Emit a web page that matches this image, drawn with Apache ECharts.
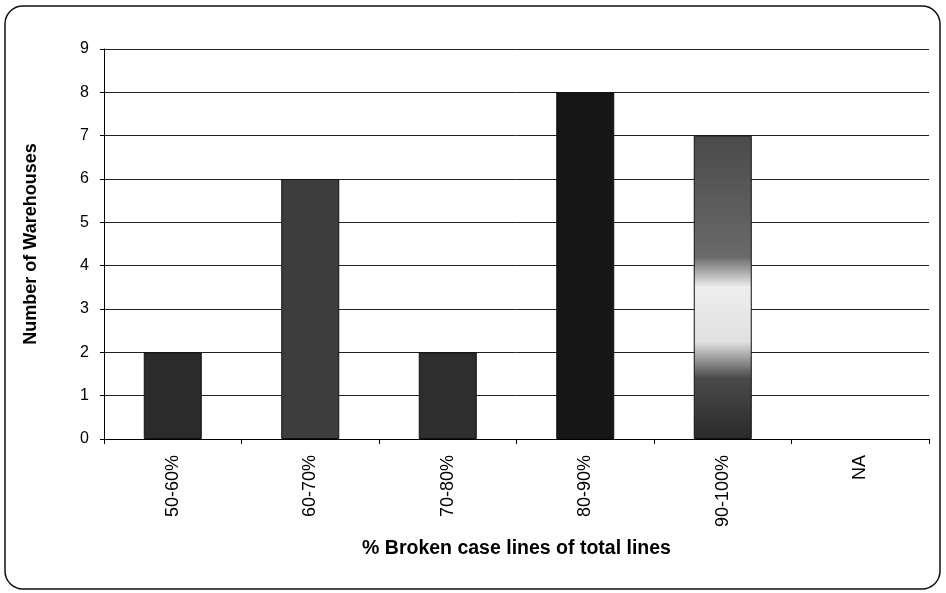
<!DOCTYPE html>
<html><head><meta charset="utf-8">
<script src="https://cdn.jsdelivr.net/npm/echarts@6/dist/echarts.min.js"></script>
<style>html,body{margin:0;padding:0;background:#fff}#c{width:946px;height:593px}</style>
</head><body><div id="c"></div>
<script>
const categories = ['50-60%', '60-70%', '70-80%', '80-90%', '90-100%', 'NA'];
const warehouses = [2, 6, 2, 8, 7, 0];
const yTicks = [0, 1, 2, 3, 4, 5, 6, 7, 8, 9];
const barShades = ['#2b2b2b', '#3d3d3d', '#2e2e2e', '#161616', null, '#333'];

const chart = echarts.init(document.getElementById('c'));
const grad = new echarts.graphic.LinearGradient(0, 0, 0, 1, [
  {offset: 0, color: '#4a4a4a'}, {offset: 0.4, color: '#6a6a6a'},
  {offset: 0.5, color: '#eeeeee'}, {offset: 0.68, color: '#e0e0e0'},
  {offset: 0.8, color: '#4a4a4a'}, {offset: 1, color: '#2a2a2a'}
]);
const font = 'Liberation Sans, Arial';
chart.setOption({
  animation: false,
  graphic: [{type: 'rect', shape: {x: 5, y: 6, width: 935, height: 583, r: 18},
    style: {fill: 'none', stroke: '#111', lineWidth: 1.5}, z: -1}],
  grid: {left: 104, right: 17, top: 49, bottom: 154},
  xAxis: {
    type: 'category', data: categories,
    name: '% Broken case lines of total lines', nameLocation: 'middle', nameGap: 100,
    nameTextStyle: {fontFamily: font, fontWeight: 'bold', fontSize: 19.5, color: '#000'},
    axisLine: {lineStyle: {color: '#000', width: 1}},
    axisTick: {show: true, alignWithLabel: false, length: 5, lineStyle: {color: '#000'}},
    axisLabel: {rotate: 90, margin: 16, fontFamily: font, fontSize: 18, color: '#000'}
  },
  yAxis: {
    type: 'value', min: 0, max: 9, interval: 1,
    name: 'Number of Warehouses', nameLocation: 'middle', nameGap: 64,
    nameTextStyle: {fontFamily: font, fontWeight: 'bold', fontSize: 18, color: '#000'},
    axisLine: {show: true, lineStyle: {color: '#000', width: 1}},
    axisTick: {show: true, length: 4, lineStyle: {color: '#000'}},
    axisLabel: {margin: 15, fontFamily: font, fontSize: 16, color: '#000',
      formatter: v => yTicks.includes(v) ? String(v) : ''},
    splitLine: {show: true, lineStyle: {color: '#222', width: 1}}
  },
  series: [{
    type: 'bar', barWidth: 58,
    data: warehouses.map((v, i) => ({value: v,
      itemStyle: {color: barShades[i] === null ? grad : barShades[i],
        borderColor: '#111', borderWidth: v > 0 ? 1 : 0}}))
  }]
});
</script></body></html>
